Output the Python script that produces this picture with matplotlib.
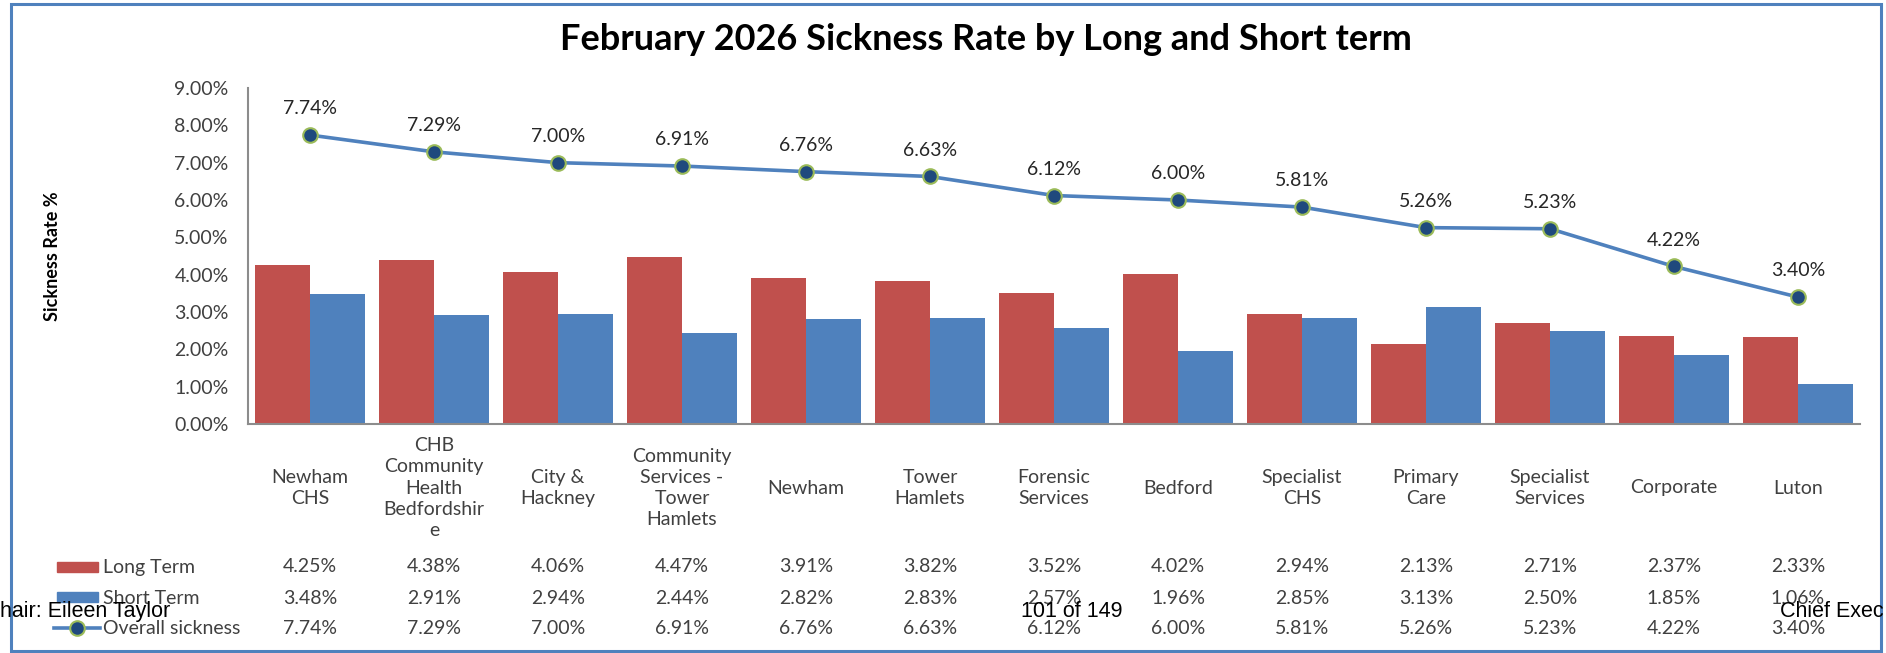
import matplotlib
matplotlib.use("Agg")
import matplotlib.pyplot as plt
from matplotlib.patches import Rectangle
from matplotlib.lines import Line2D
from matplotlib.transforms import blended_transform_factory
from matplotlib.ticker import FuncFormatter, MultipleLocator

# ---- data -------------------------------------------------------------
categories = [
    "Newham\nCHS", "CHB\nCommunity\nHealth\nBedfordshir\ne", "City &\nHackney",
    "Community\nServices -\nTower\nHamlets", "Newham", "Tower\nHamlets",
    "Forensic\nServices", "Bedford", "Specialist\nCHS", "Primary\nCare",
    "Specialist\nServices", "Corporate", "Luton",
]
long_term = [4.25, 4.38, 4.06, 4.47, 3.91, 3.82, 3.52, 4.02, 2.94, 2.13, 2.71, 2.37, 2.33]
short_term = [3.48, 2.91, 2.94, 2.44, 2.82, 2.83, 2.57, 1.96, 2.85, 3.13, 2.50, 1.85, 1.06]
overall = [7.74, 7.29, 7.00, 6.91, 6.76, 6.63, 6.12, 6.00, 5.81, 5.26, 5.23, 4.22, 3.40]
series_names = ["Long Term", "Short Term", "Overall sickness"]
title = "February 2026 Sickness Rate by Long and Short term"
y_label = "Sickness Rate %"

# ---- style ------------------------------------------------------------
RED = "#C0504D"
BLUE = "#4F81BD"
NAVY = "#1F497D"
GREEN = "#9BBB59"
TXT = "#404040"
FONT = "Lato"
FS = 14

W, H = 1886, 653
fig = plt.figure(figsize=(W / 100, H / 100), dpi=100)


def fx(px):
    return px / W


def fy(py):
    return 1 - py / H


ax = fig.add_axes([fx(248), fy(424), fx(1860) - fx(248), fy(88) - fy(424)])

n = len(categories)
xs = list(range(n))
bw = 0.444

ax.bar([x - bw / 2 for x in xs], long_term, width=bw, color=RED, zorder=2)
ax.bar([x + bw / 2 for x in xs], short_term, width=bw, color=BLUE, zorder=2)
ax.plot(xs, overall, color=BLUE, lw=2.6, marker="o", ms=10.5,
        markerfacecolor=NAVY, markeredgecolor=GREEN, markeredgewidth=1.5, zorder=3)

for x, v in zip(xs, overall):
    ax.annotate(f"{v:.2f}%", (x, v), xytext=(0, 19), textcoords="offset points",
                ha="center", va="center", fontsize=FS, family=FONT, color="#262626")

ax.set_xlim(-0.5, n - 0.5)
ax.set_ylim(0, 9)
ax.yaxis.set_major_locator(MultipleLocator(1))
ax.yaxis.set_major_formatter(FuncFormatter(lambda v, p: f"{v:.2f}%"))
ax.set_xticks([])
ax.tick_params(axis="y", length=0, pad=14, labelsize=FS, labelcolor=TXT)
for lab in ax.get_yticklabels():
    lab.set_family(FONT)
for s in ("top", "right"):
    ax.spines[s].set_visible(False)
for s in ("left", "bottom"):
    ax.spines[s].set_color("#8C8C8C")
    ax.spines[s].set_linewidth(1.5)

fig.text(fx(53), fy(256), y_label, rotation=90, ha="center", va="center",
         fontsize=13, fontweight="bold", family=FONT, color="black")

fig.text(fx(986), fy(40), title, ha="center", va="center",
         fontsize=26, fontweight="bold", family=FONT, color="black")

# ---- data table under the axis ---------------------------------------
tr = blended_transform_factory(ax.transData, fig.transFigure)
for x, c in zip(xs, categories):
    ax.text(x, fy(488), c, transform=tr, ha="center", va="center",
            fontsize=FS, family=FONT, color=TXT, linespacing=1.3, clip_on=False)

rows = [(long_term, 567), (short_term, 598), (overall, 628)]
for vals, py in rows:
    for x, v in zip(xs, vals):
        ax.text(x, fy(py), f"{v:.2f}%", transform=tr, ha="center", va="center",
                fontsize=FS, family=FONT, color=TXT, clip_on=False)

# legend keys of the table
fig.patches.append(Rectangle((fx(57), fy(572)), fx(98) - fx(57), fy(562) - fy(572),
                             transform=fig.transFigure, color=RED))
fig.patches.append(Rectangle((fx(57), fy(602)), fx(98) - fx(57), fy(592) - fy(602),
                             transform=fig.transFigure, color=BLUE))
fig.lines.append(Line2D([fx(54), fx(100)], [fy(628), fy(628)], transform=fig.transFigure,
                        color=BLUE, lw=2.6))
fig.lines.append(Line2D([fx(77)], [fy(628)], transform=fig.transFigure, marker="o",
                        ms=10.5, markerfacecolor=NAVY, markeredgecolor=GREEN,
                        markeredgewidth=1.5, lw=0))
for name, py in zip(series_names, (567, 598, 628)):
    fig.text(fx(103), fy(py), name, ha="left", va="center",
             fontsize=FS, family=FONT, color=TXT)

# chart frame
fig.patches.append(Rectangle((fx(11), fy(651)), fx(1881) - fx(11), fy(4) - fy(651),
                             transform=fig.transFigure, fill=False,
                             edgecolor=BLUE, lw=2.2))

# page footer text
FOOT = "Liberation Sans"
fig.text(0, fy(617), "hair: Eileen Taylor", ha="left", va="baseline",
         fontsize=15.5, family=FOOT, color="black", zorder=10)
fig.text(fx(1072), fy(617), "101 of 149", ha="center", va="baseline",
         fontsize=15.5, family=FOOT, color="black", zorder=10)
fig.text(fx(1780), fy(617), "Chief Exec", ha="left", va="baseline",
         fontsize=15.5, family=FOOT, color="black", zorder=10)

fig.savefig("out.png", dpi=100, facecolor="white")
